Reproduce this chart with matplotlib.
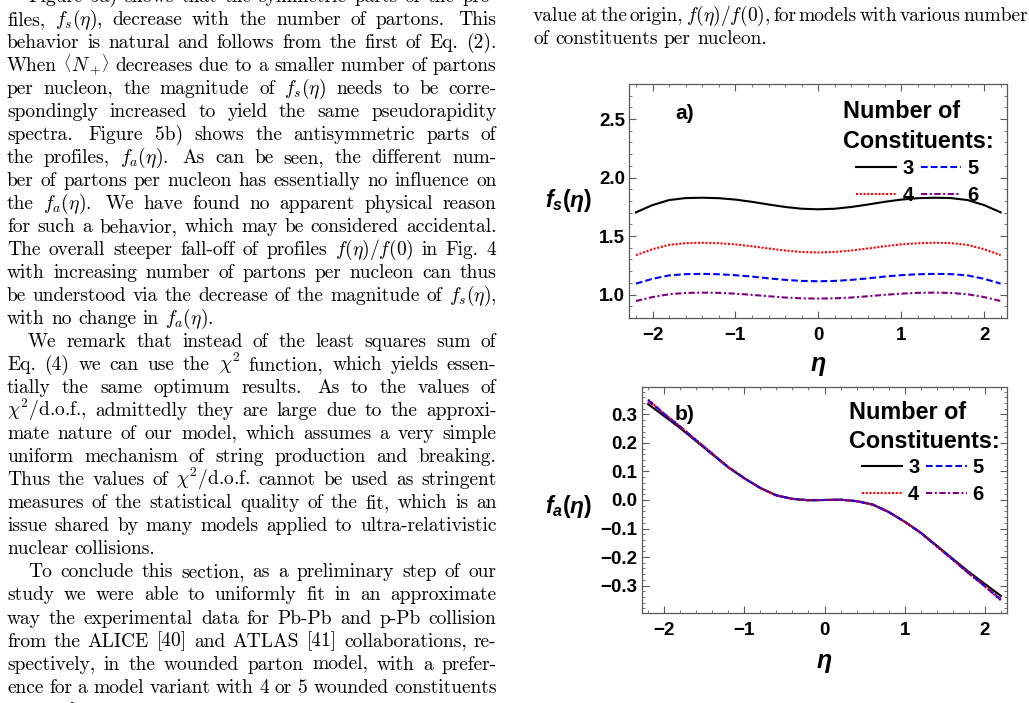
import matplotlib
matplotlib.use("Agg")
import matplotlib.pyplot as plt
from matplotlib.ticker import MultipleLocator, FuncFormatter

# ---------------- data ----------------
eta = [-2.2, -2.0, -1.8, -1.6, -1.4, -1.2, -1.0, -0.8, -0.6, -0.4, -0.2, 0.0,
       0.2, 0.4, 0.6, 0.8, 1.0, 1.2, 1.4, 1.6, 1.8, 2.0, 2.2]

fs_3 = [1.703, 1.765, 1.808, 1.825, 1.828, 1.824, 1.812, 1.793, 1.770, 1.749, 1.734, 1.729,
        1.734, 1.749, 1.770, 1.793, 1.812, 1.824, 1.828, 1.825, 1.808, 1.765, 1.703]
fs_4 = [1.337, 1.388, 1.425, 1.440, 1.443, 1.439, 1.429, 1.413, 1.394, 1.377, 1.364, 1.360,
        1.364, 1.377, 1.394, 1.413, 1.429, 1.439, 1.443, 1.440, 1.425, 1.388, 1.337]
fs_5 = [1.094, 1.135, 1.164, 1.175, 1.177, 1.174, 1.166, 1.154, 1.139, 1.126, 1.117, 1.114,
        1.117, 1.126, 1.139, 1.154, 1.166, 1.174, 1.177, 1.175, 1.164, 1.135, 1.094]
fs_6 = [0.945, 0.979, 1.003, 1.014, 1.017, 1.015, 1.008, 0.998, 0.986, 0.975, 0.968, 0.966,
        0.968, 0.975, 0.986, 0.998, 1.008, 1.015, 1.017, 1.014, 1.003, 0.979, 0.945]

fa_3 = [0.336, 0.294, 0.252, 0.206, 0.160, 0.114, 0.076, 0.042, 0.016, 0.004, -0.001, 0.000,
        0.001, -0.004, -0.016, -0.042, -0.076, -0.114, -0.160, -0.206, -0.252, -0.294, -0.336]
fa_4 = [0.352, 0.303, 0.258, 0.210, 0.163, 0.116, 0.077, 0.042, 0.016, 0.004, -0.001, 0.000,
        0.001, -0.004, -0.016, -0.042, -0.077, -0.116, -0.163, -0.210, -0.258, -0.303, -0.352]
fa_5 = [0.350, 0.302, 0.257, 0.209, 0.162, 0.115, 0.076, 0.042, 0.016, 0.004, -0.001, 0.000,
        0.001, -0.004, -0.016, -0.042, -0.076, -0.115, -0.162, -0.209, -0.257, -0.302, -0.350]
fa_6 = [0.347, 0.300, 0.256, 0.208, 0.162, 0.115, 0.076, 0.042, 0.016, 0.004, -0.001, 0.000,
        0.001, -0.004, -0.016, -0.042, -0.076, -0.115, -0.162, -0.208, -0.256, -0.300, -0.347]

constituents = ["3", "4", "5", "6"]
legend_title = ["Number of", "Constituents:"]

# body text: (text, indented, justified); "|" joins sub-parts of one word,
# a leading "~" draws that sub-part slightly smaller
body_lines = [
    ("Figure 5a) shows that the symmetric parts of the pro-", True, True),
    (r"files, $f_s(\eta)$, decrease with the number of partons.  This", False, True),
    ("behavior is natural and follows from the first of Eq. (2).", False, True),
    (r"When ~$\langle$|$N_+$|~$\rangle$ decreases due to a smaller number of partons", False, True),
    (r"per nucleon, the magnitude of $f_s(\eta)$ needs to be corre-", False, True),
    ("spondingly increased to yield the same pseudorapidity", False, True),
    ("spectra.  Figure 5b) shows the antisymmetric parts of", False, True),
    (r"the profiles, $f_a(\eta)$.  As can be seen, the different num-", False, True),
    ("ber of partons per nucleon has essentially no influence on", False, True),
    (r"the $f_a(\eta)$.  We have found no apparent physical reason", False, True),
    ("for such a behavior, which may be considered accidental.", False, True),
    (r"The overall steeper fall-off of profiles $f(\eta)/f(0)$ in Fig. 4", False, True),
    ("with increasing number of partons per nucleon can thus", False, True),
    (r"be understood via the decrease of the magnitude of $f_s(\eta)$,", False, True),
    (r"with no change in $f_a(\eta)$.", False, False),
    ("We remark that instead of the least squares sum of", True, True),
    (r"Eq. (4) we can use the $\chi^2$ function, which yields essen-", False, True),
    ("tially the same optimum results.  As to the values of", False, True),
    (r"$\chi^2$/d.o.f., admittedly they are large due to the approxi-", False, True),
    ("mate nature of our model, which assumes a very simple", False, True),
    ("uniform mechanism of string production and breaking.", False, True),
    (r"Thus the values of $\chi^2$/d.o.f. cannot be used as stringent", False, True),
    ("measures of the statistical quality of the fit, which is an", False, True),
    ("issue shared by many models applied to ultra-relativistic", False, True),
    ("nuclear collisions.", False, False),
    ("To conclude this section, as a preliminary step of our", True, True),
    ("study we were able to uniformly fit in an approximate", False, True),
    ("way the experimental data for Pb-Pb and p-Pb collision", False, True),
    ("from the ALICE [40] and ATLAS [41] collaborations, re-", False, True),
    ("spectively, in the wounded parton model, with a prefer-", False, True),
    ("ence for a model variant with 4 or 5 wounded constituents", False, True),
    ("per nucleon.", False, False),
]
caption_lines = [
    (r"value at the origin, $f(\eta)/f(0)$, for models with various number", False, True),
    ("of constituents per nucleon.", False, False),
]

# ---------------- style ----------------
plt.rcParams.update({
    "font.family": ["Liberation Sans", "DejaVu Sans"],
    "font.weight": "bold",
    "mathtext.fontset": "custom",
    "mathtext.rm": "Liberation Sans:bold",
    "mathtext.it": "Liberation Sans:italic:bold",
    "mathtext.bf": "Liberation Sans:bold",
    "mathtext.sf": "Liberation Sans:bold",
})

W, H = 1029, 703
fig = plt.figure(figsize=(W / 100, H / 100), dpi=100)
renderer = fig.canvas.get_renderer()

BODY_FS = 14.0
SPACE = 6.4


def make_word(word, baseline):
    parts = []
    for sub in word.split("|"):
        size = BODY_FS
        dy = 0.0
        if sub.startswith("~"):
            sub = sub[1:]
            size = BODY_FS * 0.8
            dy = -1.5
        t = fig.text(0, 1 - (baseline + dy) / H, sub, fontsize=size, family="cmr10",
                     fontweight="normal", math_fontfamily="cm",
                     va="baseline", ha="left")
        parts.append((t, t.get_window_extent(renderer).width))
    return parts


def place_line(text, x0, x1, baseline, indent=0.0, justify=True):
    tokens = text.split(" ")
    words, weights = [], []
    pend = 1.0
    for t in tokens:
        if t == "":
            pend += 0.4
            continue
        if words:
            weights.append(pend)
        words.append(t)
        pend = 1.0
    objs = [make_word(w, baseline) for w in words]
    widths = [sum(p[1] for p in o) for o in objs]
    start = x0 + indent
    if justify and len(words) > 1:
        gap = (x1 - start - sum(widths)) / sum(weights)
    else:
        gap = SPACE
    x = start
    for i, parts in enumerate(objs):
        for (t, w) in parts:
            t.set_x(x / W)
            x += w
        if i < len(weights):
            x += gap * weights[i]


LINE_H = 23.02
for i, (txt, ind, just) in enumerate(body_lines):
    place_line(txt, 7.0, 496.5, 1.98 + LINE_H * i, indent=21.0 if ind else 0.0, justify=just)
for i, (txt, ind, just) in enumerate(caption_lines):
    place_line(txt, 533.0, 1028.0, 21.0 + 22.5 * i, indent=0.0, justify=just)

# ---------------- axes ----------------
axA = fig.add_axes([629.3 / W, 1 - 318 / H, 378 / W, 234 / H])
axB = fig.add_axes([641.7 / W, 1 - 612.7 / H, 365.6 / W, 226 / H])

FRAME = "#5a5a5a"


def fmt1(v, p):
    if abs(v) < 1e-9:
        v = 0.0
    return ("%.1f" % v).replace("-", "\u2212")


def fmt0(v, p):
    v = int(round(v))
    return str(v).replace("-", "\u2212")


def style(ax, ymaj, ymin):
    for s in ax.spines.values():
        s.set_color(FRAME)
        s.set_linewidth(0.9)
    ax.xaxis.set_major_locator(MultipleLocator(1))
    ax.xaxis.set_minor_locator(MultipleLocator(0.2))
    ax.yaxis.set_major_locator(MultipleLocator(ymaj))
    ax.yaxis.set_minor_locator(MultipleLocator(ymin))
    ax.xaxis.set_major_formatter(FuncFormatter(fmt0))
    ax.yaxis.set_major_formatter(FuncFormatter(fmt1))
    ax.tick_params(which="both", direction="in", top=True, right=True, color=FRAME)
    ax.tick_params(which="major", length=5, width=0.8, labelsize=13.5)
    ax.tick_params(which="minor", length=2.5, width=0.6)
    ax.tick_params(axis="x", which="major", pad=6.5)
    ax.tick_params(axis="y", which="major", pad=3)


styles = {
    "3": dict(color="black", linestyle="-"),
    "4": dict(color="#ff0000", linestyle=(0, (1.0, 0.8))),
    "5": dict(color="#0000ff", linestyle=(0, (3.2, 1.5))),
    "6": dict(color="#800080", linestyle=(0, (3.0, 1.2, 1.0, 1.2))),
}

hA = []
for lab, ys in zip(constituents, [fs_3, fs_4, fs_5, fs_6]):
    ln, = axA.plot(eta, ys, lw=1.5, **styles[lab])
    hA.append(ln)
hB = []
for lab, ys in zip(constituents, [fa_3, fa_4, fa_5, fa_6]):
    ln, = axB.plot(eta, ys, lw=1.5, **styles[lab])
    hB.append(ln)

axA.set_xlim(-2.28, 2.28)
axA.set_ylim(0.8, 2.8)
axB.set_xlim(-2.28, 2.28)
axB.set_ylim(-0.395, 0.397)
style(axA, 0.5, 0.1)
style(axB, 0.1, 0.02)

# labels
axA.set_ylabel(r"$f_s(\eta)$", rotation=0, fontsize=16.5, ha="center", va="center")
axA.yaxis.set_label_coords(-0.16, 0.5)
axB.set_ylabel(r"$f_a(\eta)$", rotation=0, fontsize=16.5, ha="center", va="center")
axB.yaxis.set_label_coords(-0.199, 0.47)
axA.set_xlabel(r"$\eta$", fontsize=18, va="baseline")
axA.xaxis.set_label_coords(0.5, -0.226)
axB.set_xlabel(r"$\eta$", fontsize=18, va="baseline")
axB.xaxis.set_label_coords(0.5, -0.245)

axA.text(0.121, 0.876, "a)", transform=axA.transAxes, fontsize=15, fontweight="bold",
         ha="left", va="center")
axB.text(0.091, 0.879, "b)", transform=axB.transAxes, fontsize=15, fontweight="bold",
         ha="left", va="center")


def legend(ax, handles, tx, ty1, ty2, lx, ly):
    ax.text(tx, ty1, legend_title[0], transform=ax.transAxes, fontsize=16.8,
            fontweight="bold", ha="left", va="baseline")
    ax.text(tx, ty2, legend_title[1], transform=ax.transAxes, fontsize=16.8,
            fontweight="bold", ha="left", va="baseline")
    ax.legend(handles, constituents, ncol=2, loc="upper left", bbox_to_anchor=(lx, ly),
              frameon=False, borderpad=0, borderaxespad=0, handlelength=2.0,
              handletextpad=0.3, columnspacing=0.35, labelspacing=0.4,
              prop={"size": 14.5, "weight": "bold"})


legend(axA, hA, 0.565, 0.855, 0.726, 0.600, 0.680)
legend(axB, hB, 0.567, 0.857, 0.729, 0.602, 0.685)

fig.savefig("out.png", dpi=100)
